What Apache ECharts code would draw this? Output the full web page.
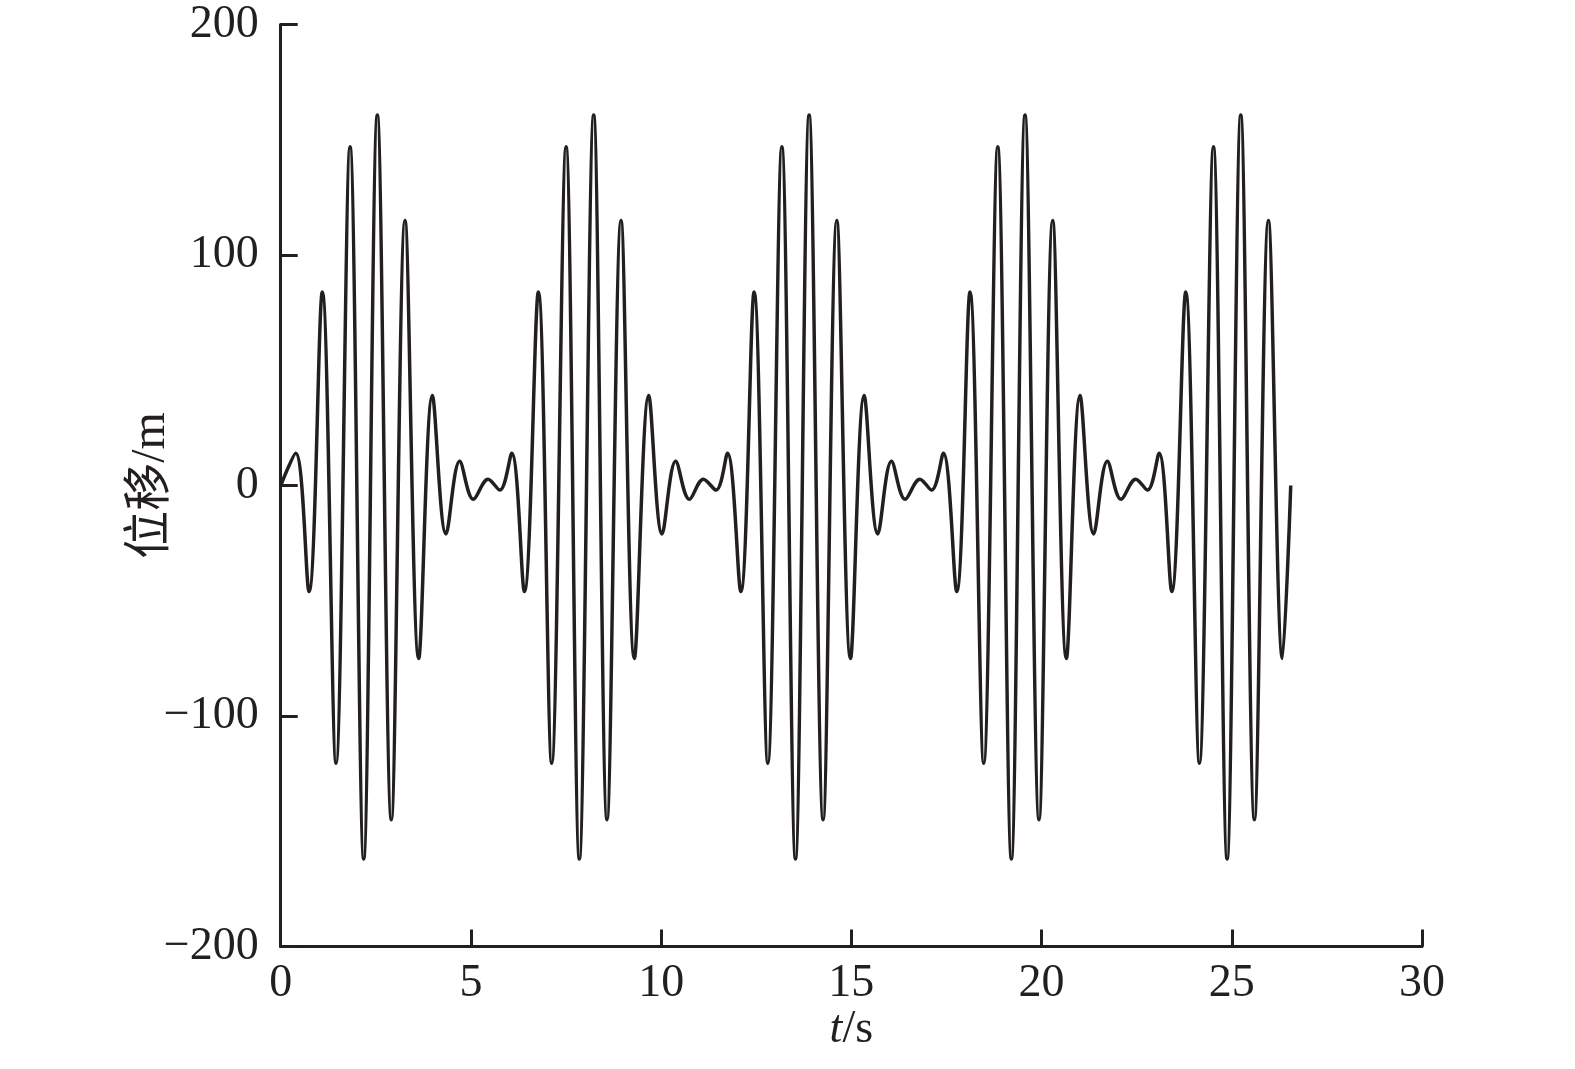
<!DOCTYPE html>
<html>
<head>
<meta charset="utf-8">
<script src="https://cdn.jsdelivr.net/npm/echarts@6/dist/echarts.min.js"></script>
<style>
html,body{margin:0;padding:0;background:#fff;}
#chart{width:1575px;height:1069px;}
</style>
</head>
<body>
<div id="chart"></div>
<script>
// time (s) of each turning point
var timeValues = [
  0.000,
  0.393, 0.744, 1.094, 1.454, 1.822, 2.181, 2.540, 2.908, 3.268, 3.627, 3.986, 4.345, 4.705, 5.064, 5.450, 5.760,
  6.072, 6.405, 6.773, 7.123, 7.500, 7.850, 8.227, 8.578, 8.946, 9.296, 9.673, 10.024, 10.383, 10.742, 11.110, 11.443,
  11.743, 12.094, 12.444, 12.804, 13.172, 13.531, 13.890, 14.258, 14.618, 14.977, 15.336, 15.695, 16.055, 16.414, 16.800, 17.110,
  17.418, 17.769, 18.119, 18.479, 18.847, 19.206, 19.565, 19.933, 20.293, 20.652, 21.011, 21.370, 21.730, 22.089, 22.475, 22.785,
  23.089, 23.422, 23.790, 24.149, 24.517, 24.877, 25.236, 25.595, 25.963, 26.331, 26.550
];
// displacement (m) at those points
var dispValues = [
  0,
  14, -46, 84, -120.5, 147, -162, 160.7, -145, 115, -75, 39, -21, 10.5, -6, 2.7, -2,
  14, -46, 84, -120.5, 147, -162, 160.7, -145, 115, -75, 39, -21, 10.5, -6, 2.7, -2,
  14, -46, 84, -120.5, 147, -162, 160.7, -145, 115, -75, 39, -21, 10.5, -6, 2.7, -2,
  14, -46, 84, -120.5, 147, -162, 160.7, -145, 115, -75, 39, -21, 10.5, -6, 2.7, -2,
  14, -46, 84, -120.5, 147, -162, 160.7, -145, 115, -75, 0
];
var xTicks = [0, 5, 10, 15, 20, 25, 30];
var yTicks = [-200, -100, 0, 100, 200];

var seriesData = timeValues.map(function (t, i) { return [t, dispValues[i]]; });
var ink = '#231f20';
var serif = '"Liberation Serif", "Times New Roman", serif';

var chart = echarts.init(document.getElementById('chart'), null, {renderer: 'canvas'});
chart.setOption({
  animation: false,
  backgroundColor: '#ffffff',
  grid: {left: 280.7, right: 153, top: 24.5, bottom: 122.5, containLabel: false},
  xAxis: {
    type: 'value',
    min: xTicks[0], max: xTicks[xTicks.length - 1], interval: 5,
    name: '{i|t}/s',
    nameLocation: 'middle',
    nameGap: 60,
    nameMoveOverlap: false,
    nameTextStyle: {
      fontFamily: serif, fontSize: 46, color: ink,
      rich: {i: {fontFamily: serif, fontStyle: 'italic', fontSize: 46, color: ink}}
    },
    axisLine: {show: true, onZero: false, lineStyle: {color: ink, width: 3}},
    axisTick: {show: true, inside: true, length: 17, lineStyle: {color: ink, width: 3}},
    axisLabel: {margin: 14, fontFamily: serif, fontSize: 46, color: ink},
    splitLine: {show: false}
  },
  yAxis: {
    type: 'value',
    min: yTicks[0], max: yTicks[yTicks.length - 1], interval: 100,
    name: '位移/m',
    nameLocation: 'middle',
    nameGap: 105,
    nameMoveOverlap: false,
    nameTextStyle: {fontFamily: '"Liberation Serif", "Noto Sans CJK SC", serif', fontSize: 48, color: ink},
    axisLine: {show: true, onZero: false, lineStyle: {color: ink, width: 3}},
    axisTick: {show: true, inside: true, length: 17, lineStyle: {color: ink, width: 3}},
    axisLabel: {
      margin: 22, fontFamily: serif, fontSize: 46, color: ink,
      formatter: function (v) { return v < 0 ? '\u2212' + Math.abs(v) : String(v); }
    },
    splitLine: {show: false}
  },
  series: [{
    type: 'line',
    data: seriesData,
    smooth: 0.36,
    showSymbol: false,
    clip: false,
    lineStyle: {color: ink, width: 3.5},
    itemStyle: {color: ink}
  }]
});
</script>
</body>
</html>
